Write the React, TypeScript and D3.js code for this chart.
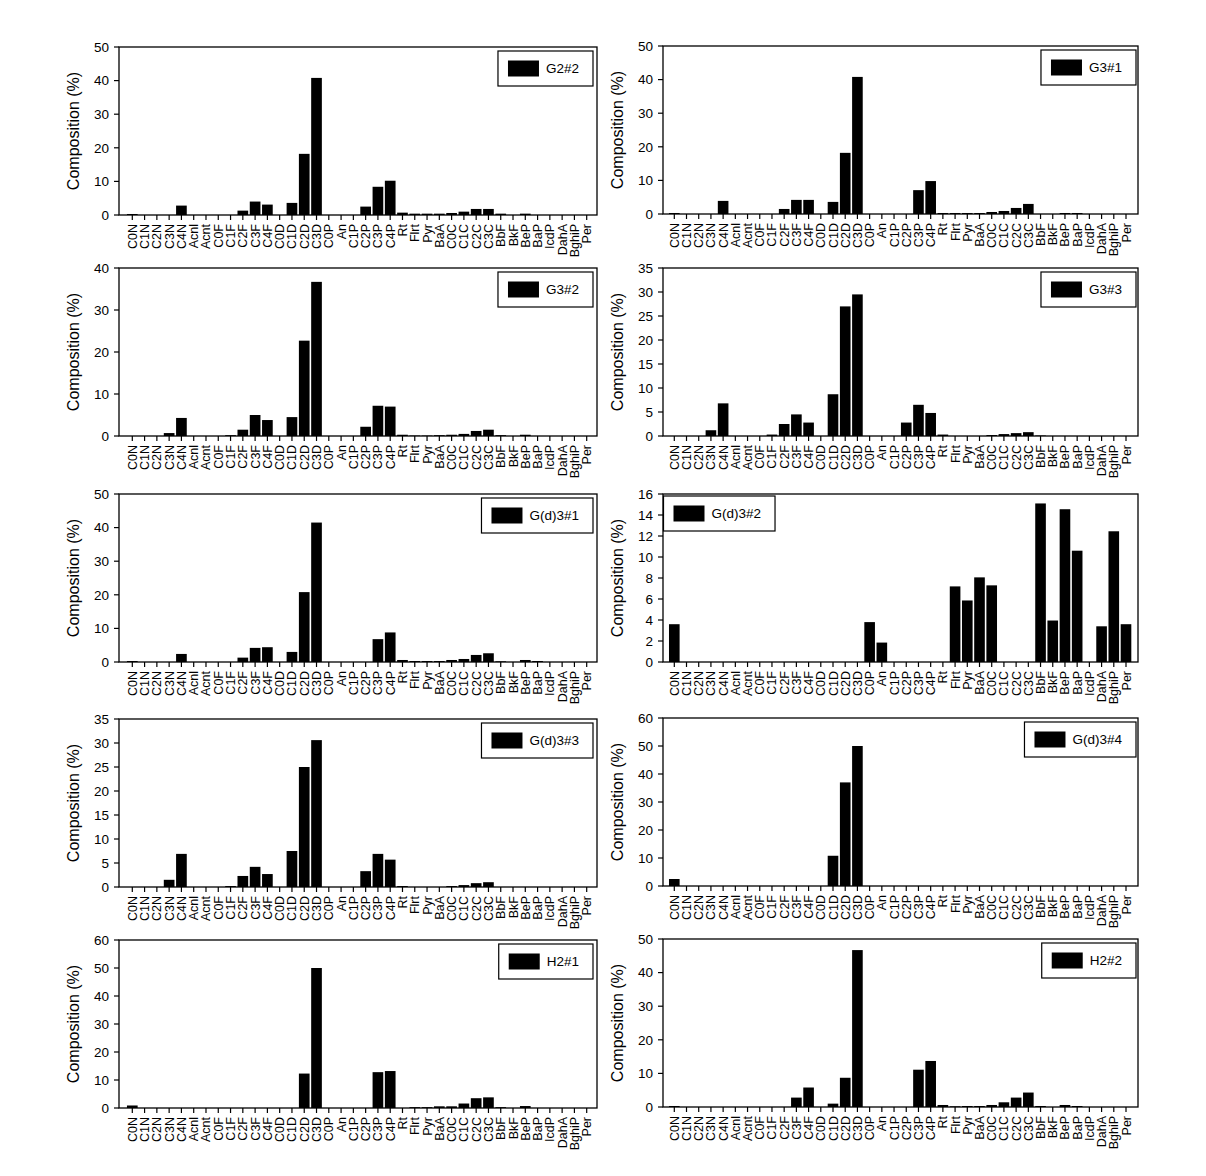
import React from 'react';
import * as d3 from 'd3';

const categories = ['C0N','C1N','C2N','C3N','C4N','Acnl','Acnt','C0F','C1F','C2F','C3F','C4F','C0D','C1D','C2D','C3D','C0P','An','C1P','C2P','C3P','C4P','Rt','Flrt','Pyr','BaA','C0C','C1C','C2C','C3C','BbF','BkF','BeP','BaP','IcdP','DahA','BghiP','Per'];

const seriesNames = ['G2#2','G3#1','G3#2','G3#3','G(d)3#1','G(d)3#2','G(d)3#3','G(d)3#4','H2#1','H2#2'];

const g2_2 = [0.3,0,0,0,2.8, 0,0,0,0,1.3, 4.0,3.1,0,3.6,18.2, 40.8,0,0,0,2.5, 8.4,10.2,0.7,0.4,0.4, 0.4,0.6,1.0,1.8,1.8, 0.4,0,0.4,0,0, 0,0,0];
const g3_1 = [0.3,0,0,0,3.9, 0,0,0,0,1.5, 4.2,4.2,0,3.6,18.2, 40.8,0,0,0,0, 7.1,9.8,0.3,0.3,0.3, 0.3,0.6,0.9,1.8,3.0, 0,0,0.3,0.3,0, 0,0,0];
const g3_2 = [0,0,0,0.7,4.3, 0,0,0,0.2,1.5, 5.0,3.8,0,4.5,22.7, 36.7,0,0,0,2.2, 7.2,7.0,0.3,0.1,0.1, 0.2,0.3,0.5,1.2,1.5, 0.2,0,0.3,0,0, 0,0,0];
const g3_3 = [0,0,0,1.2,6.8, 0,0,0,0.3,2.5, 4.5,2.8,0,8.7,27.0, 29.5,0,0,0,2.8, 6.5,4.8,0.3,0,0, 0,0.2,0.4,0.6,0.8, 0.1,0,0,0,0, 0,0,0];
const gd3_1 = [0.3,0,0,0,2.4, 0,0,0,0,1.3, 4.2,4.4,0,3.0,20.8, 41.5,0,0,0,0, 6.8,8.8,0.6,0.3,0.3, 0.3,0.6,0.9,2.1,2.6, 0.2,0,0.6,0.3,0, 0,0,0];
const gd3_2 = [3.6,0,0,0,0, 0,0,0,0,0, 0,0,0,0,0, 0,3.8,1.85,0,0, 0,0,0,7.2,5.86, 8.06,7.3,0,0,0, 15.1,3.95,14.55,10.6,0, 3.4,12.45,3.6];
const gd3_3 = [0,0,0,1.5,6.9, 0,0,0,0.2,2.3, 4.2,2.7,0,7.5,25.0, 30.6,0,0,0,3.3, 6.9,5.7,0.2,0,0, 0,0.2,0.4,0.8,1.0, 0,0,0,0,0, 0,0,0];
const gd3_4 = [2.5,0,0,0,0, 0,0,0,0,0, 0,0,0,10.8,37.0, 50.0,0,0,0,0, 0,0,0,0,0, 0,0,0,0,0, 0,0,0,0,0, 0,0,0];
const h2_1 = [0.9,0,0,0,0, 0,0,0,0,0, 0,0,0,0,12.3, 50.0,0,0,0,0, 12.8,13.2,0,0.3,0.3, 0.6,0.6,1.6,3.5,3.8, 0.3,0,0.7,0,0, 0,0,0];
const h2_2 = [0.3,0,0,0,0, 0,0,0,0,0, 2.8,5.8,0,1.0,8.7, 46.7,0,0,0,0, 11.1,13.7,0.6,0.2,0.3, 0.3,0.6,1.4,2.8,4.3, 0.3,0,0.6,0.3,0, 0,0,0];

const seriesValues = [g2_2, g3_1, g3_2, g3_3, gd3_1, gd3_2, gd3_3, gd3_4, h2_1, h2_2];
const yMaxes = [50, 50, 40, 35, 50, 16, 35, 60, 60, 50];
const ySteps = [10, 10, 10, 5, 10, 2, 5, 10, 10, 10];

// layout
const FONT = '"Liberation Sans", Arial, Helvetica, sans-serif';
const columns = [
  { x0: 119, x1: 597, first: 132.3, last: 586.7 },
  { x0: 663, x1: 1138, first: 674.3, last: 1126 },
];
const rowTops = [
  [47, 268, 494, 719, 940],
  [46, 268, 494, 718, 939],
];
const PANEL_H = 168;
const legendLeft = [false, false, false, false, false, true, false, false, false, false];

function measure(text: string, size: number): number {
  try {
    const c = document.createElement('canvas').getContext('2d');
    if (c) {
      c.font = `${size}px "Liberation Sans", Arial, sans-serif`;
      return c.measureText(text).width;
    }
  } catch (e) {}
  return text.length * size * 0.6;
}

function Panel({ idx }: { idx: number }) {
  const col = idx % 2;
  const row = Math.floor(idx / 2);
  const c = columns[col];
  const top = rowTops[col][row];
  const bottom = top + PANEL_H;
  const values = seriesValues[idx];
  const yMax = yMaxes[idx];
  const step = ySteps[idx];

  const x = d3.scalePoint<string>().domain(categories).range([c.first, c.last]);
  const y = d3.scaleLinear().domain([0, yMax]).range([bottom, top]);
  const bw = x.step() * 0.87;
  const ticks = d3.range(0, yMax + step / 2, step);

  const name = seriesNames[idx];
  const tw = measure(name, 13.5);
  const boxW = 62 + tw;
  const boxH = 35;
  const boxX = legendLeft[idx] ? c.x0 + 0.5 : (col === 0 ? c.x1 - 4 - boxW : c.x1 - 2 - boxW);
  const boxY = top + (legendLeft[idx] ? 2 : 4);
  const midY = (top + bottom) / 2;

  return (
    <g>
      {categories.map((cat, i) =>
        values[i] > 0 ? (
          <rect key={cat} x={(x(cat) as number) - bw / 2} y={y(values[i])} width={bw} height={bottom - y(values[i])} fill="#000" />
        ) : null
      )}
      <rect x={c.x0} y={top} width={c.x1 - c.x0} height={PANEL_H} fill="none" stroke="#000" strokeWidth={1.3} />
      {ticks.map((t) => (
        <g key={t}>
          <line x1={c.x0 - 5} x2={c.x0} y1={y(t)} y2={y(t)} stroke="#000" strokeWidth={1.2} />
          <text x={c.x0 - 10} y={y(t)} dy="0.36em" textAnchor="end" fontSize={13.5} fontFamily={FONT} fill="#000">{t}</text>
        </g>
      ))}
      {categories.map((cat) => {
        const cx = x(cat) as number;
        return (
          <g key={cat}>
            <line x1={cx} x2={cx} y1={bottom} y2={bottom + 5} stroke="#000" strokeWidth={1.2} />
            <text transform={`translate(${cx},${bottom + 9}) rotate(-90)`} dy="0.36em" textAnchor="end" fontSize={12.5} fontFamily={FONT} fill="#000">{cat}</text>
          </g>
        );
      })}
      <text transform={`translate(${c.x0 - 46},${midY}) rotate(-90)`} textAnchor="middle" dy="0.36em" fontSize={16} fontFamily={FONT} fill="#000">Composition (%)</text>
      <rect x={boxX} y={boxY} width={boxW} height={boxH} fill="#fff" stroke="#000" strokeWidth={1.2} />
      <rect x={boxX + 10} y={boxY + boxH / 2 - 8} width={31} height={16} fill="#000" />
      <text x={boxX + 48} y={boxY + boxH / 2} dy="0.36em" fontSize={13.5} fontFamily={FONT} fill="#000">{name}</text>
    </g>
  );
}

export default function App() {
  return (
    <svg width={1206} height={1176} style={{ position: 'absolute', left: 0, top: 0, background: '#fff' }}>
      <rect x={0} y={0} width={1206} height={1176} fill="#fff" />
      {seriesNames.map((n, i) => <Panel key={n} idx={i} />)}
    </svg>
  );
}
